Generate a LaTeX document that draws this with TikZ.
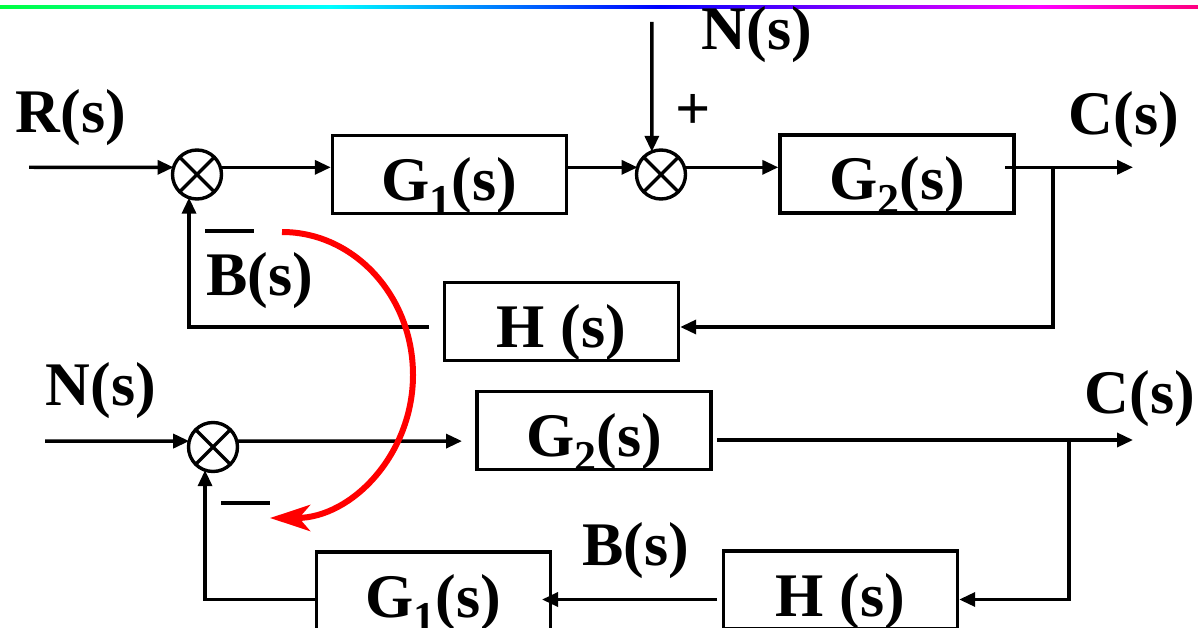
\documentclass[tikz,border=0pt]{standalone}
\usepackage{fontspec}
\setmainfont{Liberation Serif}
\usetikzlibrary{arrows.meta,calc}
\pgfdeclarehorizontalshading{rainbowline}{100bp}{rgb(0bp)=(0,1,0.25); rgb(25bp)=(0,1,0.25); rgb(38.75bp)=(0,1,1); rgb(52.5bp)=(0,0,1); rgb(68.4bp)=(1,0,1); rgb(75bp)=(1,0,0.5); rgb(100bp)=(1,0,0.5)}
\newcommand{\dgbig}{\fontsize{62}{62}\selectfont\bfseries}
\newcommand{\dgsub}[1]{{\fontsize{44}{44}\selectfont\raisebox{-15pt}{#1}}}
\begin{document}
\begin{tikzpicture}[x=1pt,y=-1pt,
  wire/.style={line width=3.4pt},
  arr/.style={wire,-{Triangle[length=16pt,width=14pt]}},
  sumnode/.style={circle,draw,line width=3.4pt,minimum size=49pt,inner sep=0pt,outer sep=0pt},
  blockbox/.style={draw,line width=3.4pt,minimum width=234pt,minimum height=78pt,inner sep=0pt,text height=52pt,text depth=0pt,font=\dgbig},
  lbl/.style={inner sep=0pt,anchor=base,font=\dgbig},
  redarc/.style={draw=red,line width=6pt,-{Stealth[length=40pt,width=26pt,inset=11pt]}}]
\useasboundingbox (0,0) rectangle (1198,628);
\fill[white] (0,0) rectangle (1198,628);
% rainbow rule
\shade[shading=rainbowline] (0,5.2) rectangle (1198,8.8);

% ---------- upper diagram ----------
\node[sumnode] (s1) at (197,174.5) {};
\node[sumnode] (s2) at (661,174.5) {};
\node[blockbox] (g1) at (449.5,174.5) {G\dgsub{1}(s)};
\node[blockbox] (g2) at (897,174) {G\dgsub{2}(s)};
\node[blockbox] (h1) at (561.5,321.5) {H (s)};

\node[lbl] (lr) at (71,133) {R(s)};
\node[lbl] (ln1) at (757,50) {N(s)};
\node[lbl] (lc1) at (1124,135) {C(s)};
\node[lbl] (lb1) at (260,295) {B(s)};
\node[font=\fontsize{62}{62}\selectfont\bfseries,inner sep=0pt] (plus) at (693,112) {+};

\coordinate (rin) at (29,167.3);
\coordinate (ntop) at (651.8,22);
\coordinate (g2o) at (1005,167.3);
\coordinate (cout1) at (1133,167.3);
\coordinate (b1) at (1053,167.3);
\coordinate (b1d) at (1053,327);
\coordinate (h1o) at (429,327);

\draw[arr] (rin) -- (s1.163);
\draw[arr] (s1.17) -- (s1.17 -| g1.west);
\draw[arr] (g1.east |- s1.17) -- (s2.163);
\draw[arr] (ntop) -- (s2.112);
\draw[arr] (s2.17) -- (s2.17 -| g2.west);
\draw[arr] (g2o) -- (cout1);
\draw[arr] (b1) -- (b1d) -- (b1d -| h1.east);
\draw[arr] (h1o) -- (h1o -| s1.251) -- (s1.251);
\draw[wire] (205,231) -- (254,231);

% ---------- lower diagram ----------
\node[sumnode] (s3) at (213,447) {};
\node[blockbox] (g2b) at (594,430.5) {G\dgsub{2}(s)};
\node[blockbox] (h2) at (840.5,590) {H (s)};
\node[blockbox] (g1b) at (433.5,591) {G\dgsub{1}(s)};

\node[lbl] (ln2) at (101,405) {N(s)};
\node[lbl] (lc2) at (1140,413) {C(s)};
\node[lbl] (lb2) at (636,565) {B(s)};

\coordinate (nin) at (45,441.1);
\coordinate (g2bin) at (462,441.1);
\coordinate (g2bo) at (717,440);
\coordinate (cout2) at (1133,440);
\coordinate (b2) at (1069,440);
\coordinate (b2d) at (1069,599.5);
\coordinate (h2o) at (717,599.5);
\coordinate (g1bin) at (542,599.5);

\draw[arr] (nin) -- (s3.166);
\draw[arr] (s3.14) -- (g2bin);
\draw[arr] (g2bo) -- (cout2);
\draw[arr] (b2) -- (b2d) -- (b2d -| h2.east);
\draw[arr] (h2o) -- (g1bin);
\draw[arr] (g1b.west |- h2o) -- (h2o -| s3.251) -- (s3.251);
\draw[wire] (221,503) -- (270,503);

% crosses in summing junctions
\foreach \s in {s1,s2,s3} {
  \draw[wire] (\s.45) -- (\s.225) (\s.135) -- (\s.315);
}

% red curved arrow
\coordinate (rs) at (282,232);
\coordinate (rm) at (413,375);
\coordinate (re) at (270,518);
\draw[redarc] (rs) .. controls (354,232) and (413,296) .. (rm) .. controls (413,454) and (352,518) .. (re);
\end{tikzpicture}
\end{document}
